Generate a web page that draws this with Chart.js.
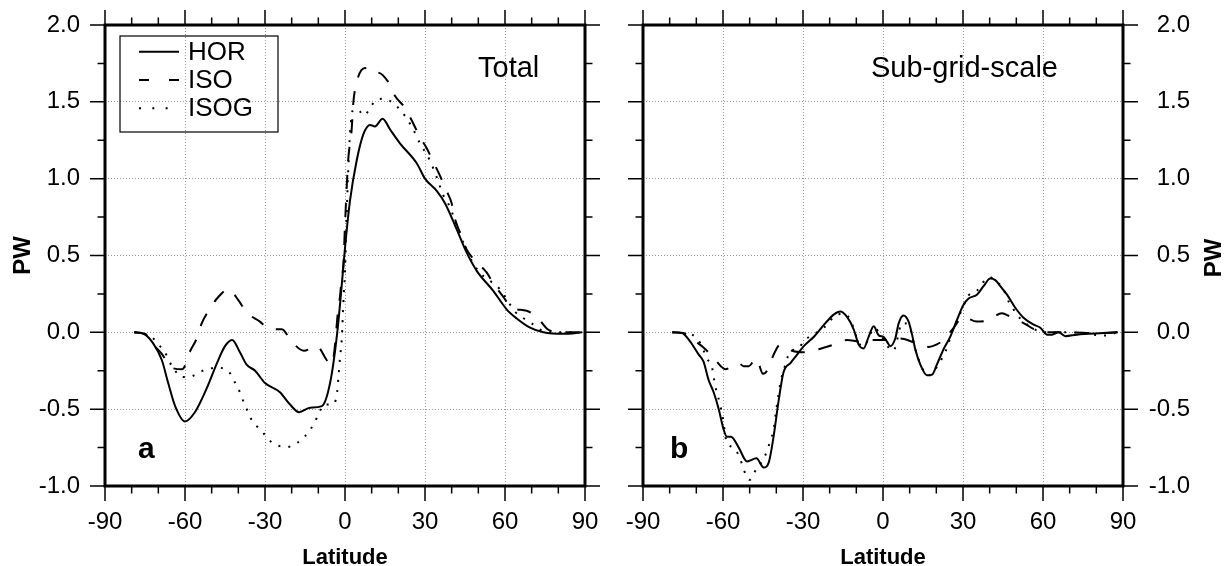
<!DOCTYPE html>
<html>
<head>
<meta charset="utf-8">
<script src="https://cdn.jsdelivr.net/npm/chart.js@4"></script>
<style>
  html, body { margin: 0; padding: 0; background: #fff; overflow: hidden; }
  canvas { position: absolute; top: 0; }
  #left { left: 0; }
  #right { left: 613px; }
</style>
</head>
<body>
<canvas id="left" width="613" height="566"></canvas>
<canvas id="right" width="613" height="566"></canvas>
<script>
// Panel a: total heat transport (PW) against latitude
const horTotalLat = [-79, -75.5, -72, -68.7, -66.3, -63.7, -60, -56.3, -52, -48, -45, -42.3, -39.4, -36.9, -33.7, -30, -24.4, -20.6, -17.2, -13.1, -8.7, -5.6, -2.9, -0.6, 0, 1.9, 4.4, 6.9, 9.4, 11.2, 14.1, 16.9, 20.6, 26.9, 30, 34.4, 37.5, 41.9, 45.6, 49.4, 55.6, 60.6, 64.4, 69.4, 74.4, 82, 89];
const horTotalPW = [0, -0.01, -0.07, -0.18, -0.33, -0.48, -0.58, -0.52, -0.37, -0.2, -0.09, -0.05, -0.13, -0.21, -0.25, -0.33, -0.39, -0.47, -0.52, -0.49, -0.48, -0.33, 0, 0.43, 0.55, 0.86, 1.12, 1.29, 1.35, 1.34, 1.39, 1.32, 1.23, 1.1, 1, 0.92, 0.84, 0.67, 0.52, 0.4, 0.27, 0.15, 0.09, 0.03, 0, -0.01, 0];

const isoTotalLat = [-79, -75, -71.9, -68.7, -65, -61, -58, -55.6, -53.7, -51.2, -47.5, -43.7, -40, -36.9, -31.9, -28.1, -23.7, -20, -15.4, -10.6, -6.9, -5.6, -4.2, -2.5, -1.9, -1.2, -0.6, 0, 1.2, 2.5, 3.1, 4.4, 7.5, 9.4, 12.5, 16.2, 18.7, 22.5, 25, 28.1, 30.6, 33.1, 35.6, 38.1, 40, 41.2, 43.1, 45.6, 48.1, 53.1, 55.6, 59.4, 62.5, 68.1, 72.5, 76, 80, 88];
const isoTotalPW = [0, -0.01, -0.08, -0.14, -0.23, -0.24, -0.12, -0.04, 0.06, 0.14, 0.23, 0.28, 0.21, 0.13, 0.07, 0.02, 0.02, -0.06, -0.12, -0.09, -0.18, -0.21, -0.15, 0.16, 0.23, 0.36, 0.44, 0.7, 1.12, 1.32, 1.49, 1.63, 1.72, 1.69, 1.69, 1.63, 1.54, 1.46, 1.38, 1.27, 1.2, 1.11, 1.02, 0.92, 0.84, 0.74, 0.65, 0.54, 0.48, 0.39, 0.32, 0.23, 0.16, 0.14, 0.09, 0.02, 0, 0];

const isogTotalLat = [-79, -75, -71.9, -69.4, -67.5, -65.9, -64.4, -61.5, -58.1, -54.7, -51.6, -48, -45, -42.5, -40.9, -39.4, -38.1, -36.6, -35, -33.1, -30.4, -27.9, -24.6, -21.2, -17.9, -15.2, -12.9, -11.2, -9.6, -7.9, -4.9, -3.1, -2.5, -1.9, -1.2, -0.6, 0, 0.6, 1.2, 1.9, 3.1, 5.4, 7.1, 9.4, 11.5, 15, 18.1, 20.6, 25, 28.1, 31.5, 34.4, 36.9, 38.4, 41.9, 45.6, 50, 58.1, 64, 67.1, 69.9, 72.9, 78, 88];
const isogTotalPW = [0, -0.01, -0.04, -0.09, -0.13, -0.19, -0.23, -0.29, -0.29, -0.26, -0.24, -0.23, -0.24, -0.28, -0.34, -0.39, -0.45, -0.51, -0.57, -0.61, -0.66, -0.71, -0.74, -0.745, -0.72, -0.68, -0.63, -0.58, -0.52, -0.47, -0.47, -0.41, -0.3, -0.17, -0.04, 0.2, 0.4, 0.75, 1.05, 1.3, 1.45, 1.44, 1.41, 1.46, 1.51, 1.52, 1.49, 1.45, 1.34, 1.23, 1.13, 1.01, 0.89, 0.85, 0.7, 0.53, 0.4, 0.28, 0.13, 0.09, 0.06, 0.02, 0, 0];

// Panel b: sub-grid-scale part
const horSgsLat = [-79, -75.4, -72.3, -69.1, -67.3, -65.4, -63.5, -61.6, -59.8, -58.5, -57, -54.1, -51, -47.5, -44.7, -42.9, -41, -39.1, -37.3, -34.7, -32.2, -29.7, -26, -21.6, -18.5, -16, -13.5, -11, -9.1, -7.3, -5.4, -3.5, -1.6, 0.2, 1.5, 2.7, 4.6, 5.9, 7.7, 9.6, 10.9, 12.1, 14, 16.5, 18.4, 20.2, 22.7, 25.2, 27.7, 30.2, 32.1, 35.2, 37.7, 40.2, 42.1, 44, 46.5, 49.6, 52.7, 56.5, 59, 61.5, 63.4, 65.9, 68.4, 72.7, 82.7, 88];
const horSgsPW = [0, -0.004, -0.06, -0.145, -0.19, -0.31, -0.39, -0.5, -0.63, -0.68, -0.68, -0.75, -0.84, -0.82, -0.88, -0.85, -0.675, -0.44, -0.26, -0.2, -0.145, -0.09, -0.03, 0.06, 0.115, 0.135, 0.1, 0.02, -0.08, -0.105, -0.03, 0.04, -0.02, -0.03, -0.06, -0.09, -0.04, 0.06, 0.11, 0.07, -0.015, -0.11, -0.21, -0.28, -0.275, -0.21, -0.11, -0.03, 0.08, 0.18, 0.22, 0.245, 0.3, 0.35, 0.34, 0.3, 0.245, 0.16, 0.095, 0.05, 0.03, -0.015, -0.015, 0, -0.025, -0.015, -0.005, 0];

const isoSgsLat = [-79, -75, -71, -66.6, -62.9, -59.1, -54.1, -52.3, -50.4, -47.5, -45, -43.5, -41.9, -38.5, -34.1, -29.1, -24.1, -18.5, -13.5, -8.5, -3.5, 2.1, 6.5, 11.5, 17.1, 20, 22.7, 25.9, 30.2, 35.2, 39.6, 44.6, 48.4, 52.7, 56.7, 61, 70, 80, 88];
const isoSgsPW = [0, -0.005, -0.05, -0.11, -0.18, -0.24, -0.2, -0.22, -0.22, -0.17, -0.27, -0.25, -0.18, -0.08, -0.12, -0.13, -0.11, -0.08, -0.05, -0.06, -0.05, -0.05, -0.04, -0.065, -0.095, -0.08, -0.05, 0.015, 0.1, 0.07, 0.08, 0.125, 0.095, 0.06, 0.02, 0, 0, -0.005, 0];

const isogSgsLat = [-79, -75, -71.6, -68.7, -66, -64.1, -62.9, -61.9, -61, -60.1, -58.7, -56.2, -54.1, -51.6, -50, -48.2, -44.4, -42.5, -41, -40, -38.5, -36.6, -34.7, -32.2, -29.7, -26.6, -24.1, -21, -17.9, -14.7, -12.2, -9, -7, -5, -3, -1, 0.5, 2.1, 4, 5, 7.1, 9.6, 12.1, 14.6, 17.1, 19.6, 22.1, 24, 25.9, 28.4, 32.1, 35.2, 37.5, 40, 42.5, 45.2, 46.5, 48.4, 50.2, 53, 55.9, 58.7, 62, 70, 83.4, 88];
const isogSgsPW = [0, -0.005, -0.015, -0.065, -0.17, -0.23, -0.35, -0.415, -0.48, -0.55, -0.71, -0.75, -0.8, -0.92, -0.96, -0.91, -0.81, -0.72, -0.63, -0.5, -0.33, -0.21, -0.12, -0.11, -0.06, -0.015, 0.005, 0.05, 0.11, 0.12, 0.08, -0.07, -0.09, -0.02, 0.03, -0.02, -0.05, -0.1, -0.12, -0.07, 0.06, 0.05, -0.11, -0.23, -0.28, -0.24, -0.17, -0.1, 0.005, 0.1, 0.24, 0.27, 0.325, 0.36, 0.33, 0.28, 0.22, 0.165, 0.115, 0.065, 0.03, 0.005, 0, 0, -0.02, 0];

const seriesNames = ['HOR', 'ISO', 'ISOG'];
const seriesDash = [[], [14, 14], [2, 8]];

const FONT = '"Liberation Sans", Arial, Helvetica, sans-serif';
Chart.defaults.font.family = FONT;
Chart.defaults.color = '#000';

function points(lat, pw) {
    return lat.map((x, i) => ({ x: x, y: pw[i] }));
}

function dataset(i, lat, pw) {
    return {
        label: seriesNames[i],
        data: points(lat, pw),
        borderColor: '#000',
        borderWidth: 2,
        borderDash: seriesDash[i],
        pointRadius: 0,
        fill: false,
        cubicInterpolationMode: 'monotone'
    };
}

// keep the plot box exactly where the layout padding puts it
function fixBox(s, size) {
    if (s.isHorizontal()) s.height = size; else s.width = size;
    s.paddingTop = 0;
    s.paddingBottom = 0;
    s.paddingLeft = 0;
    s.paddingRight = 0;
}

// frame with outward ticks on all four sides, plus panel labels
function framePlugin(panel) {
    return {
        id: 'frame',
        afterDraw(chart) {
            const ctx = chart.ctx;
            const { left, right, top, bottom } = chart.chartArea;
            const xs = chart.scales.x;
            const ys = chart.scales.y;
            ctx.save();
            ctx.strokeStyle = '#000';
            ctx.lineWidth = 1.5;
            ctx.beginPath();
            for (let lat = -90; lat <= 90; lat += 10) {
                const px = xs.getPixelForValue(lat);
                const len = lat % 30 === 0 ? 15 : 7.5;
                ctx.moveTo(px, bottom); ctx.lineTo(px, bottom + len);
                ctx.moveTo(px, top); ctx.lineTo(px, top - len);
            }
            for (let k = 0; k <= 12; k++) {
                const v = -1 + k * 0.25;
                const py = ys.getPixelForValue(v);
                const len = k % 2 === 0 ? 15 : 7.5;
                ctx.moveTo(left - len, py); ctx.lineTo(left, py);
                ctx.moveTo(right, py); ctx.lineTo(right + len, py);
            }
            ctx.stroke();

            ctx.lineWidth = 3;
            ctx.strokeRect(left, top, right - left, bottom - top);

            ctx.fillStyle = '#000';
            ctx.textBaseline = 'alphabetic';
            ctx.textAlign = 'left';
            ctx.font = '29px ' + FONT;
            ctx.fillText(panel.title, panel.titleX, 77);
            ctx.font = 'bold 30px ' + FONT;
            ctx.fillText(panel.letter, panel.letterX, 458);

            if (panel.legend) {
                ctx.lineWidth = 1.2;
                ctx.strokeRect(120, 36, 158, 96);
                const rows = [51.7, 80, 108.3];
                ctx.font = '26px ' + FONT;
                ctx.textBaseline = 'middle';
                rows.forEach((y, i) => {
                    ctx.save();
                    ctx.lineWidth = 2;
                    ctx.setLineDash(i === 0 ? [] : (i === 1 ? [10, 20] : [2, 11.3]));
                    ctx.beginPath();
                    ctx.moveTo(139, y);
                    ctx.lineTo(i === 2 ? 170 : 179, y);
                    ctx.stroke();
                    ctx.restore();
                    ctx.fillText(seriesNames[i], 188, y + 1);
                });
            }

            if (panel.sideTitle) {
                ctx.font = 'bold 24px ' + FONT;
                ctx.textAlign = 'center';
                ctx.textBaseline = 'middle';
                ctx.translate(panel.sideTitle.x, panel.sideTitle.y);
                ctx.rotate(-Math.PI / 2);
                ctx.fillText('PW', 0, 0);
            }
            ctx.restore();
        }
    };
}

function makeChart(canvasId, panel) {
    const onRight = panel.axisSide === 'right';
    const gridOpts = { color: '#999', lineWidth: 1, drawTicks: false };
    const borderOpts = { display: false, dash: [1, 2] };
    return new Chart(document.getElementById(canvasId), {
        type: 'line',
        data: {
            datasets: [
                dataset(0, panel.hor[0], panel.hor[1]),
                dataset(1, panel.iso[0], panel.iso[1]),
                dataset(2, panel.isog[0], panel.isog[1])
            ]
        },
        options: {
            responsive: false,
            animation: false,
            devicePixelRatio: 1,
            layout: {
                padding: onRight
                    ? { top: 25, left: 30, right: 36, bottom: 0 }
                    : { top: 25, left: 0, right: 28, bottom: 0 }
            },
            plugins: {
                legend: { display: false },
                tooltip: { enabled: false }
            },
            scales: {
                x: {
                    type: 'linear',
                    min: -90,
                    max: 90,
                    ticks: { stepSize: 30, padding: 22, font: { size: 24 } },
                    grid: gridOpts,
                    border: borderOpts,
                    title: {
                        display: true,
                        text: 'Latitude',
                        font: { size: 22, weight: 'bold', lineHeight: 1 },
                        padding: { top: 0, bottom: -3 }
                    },
                    afterFit: s => fixBox(s, 80)
                },
                y: {
                    position: onRight ? 'right' : 'left',
                    min: -1,
                    max: 2,
                    ticks: {
                        stepSize: 0.5,
                        padding: 25,
                        crossAlign: onRight ? 'far' : 'near',
                        font: { size: 24 },
                        callback: v => v.toFixed(1)
                    },
                    grid: gridOpts,
                    border: borderOpts,
                    title: {
                        display: !onRight,
                        text: 'PW',
                        font: { size: 24, weight: 'bold', lineHeight: 1 },
                        padding: { top: 11, bottom: 0 }
                    },
                    afterFit: s => fixBox(s, onRight ? 67 : 105)
                }
            }
        },
        plugins: [framePlugin(panel)]
    });
}

makeChart('left', {
    axisSide: 'left',
    hor: [horTotalLat, horTotalPW],
    iso: [isoTotalLat, isoTotalPW],
    isog: [isogTotalLat, isogTotalPW],
    title: 'Total',
    titleX: 478,
    letter: 'a',
    letterX: 138,
    legend: true
});

makeChart('right', {
    axisSide: 'right',
    hor: [horSgsLat, horSgsPW],
    iso: [isoSgsLat, isoSgsPW],
    isog: [isogSgsLat, isogSgsPW],
    title: 'Sub-grid-scale',
    titleX: 258,
    letter: 'b',
    letterX: 57,
    sideTitle: { x: 601, y: 258 }
});
</script>
</body>
</html>
